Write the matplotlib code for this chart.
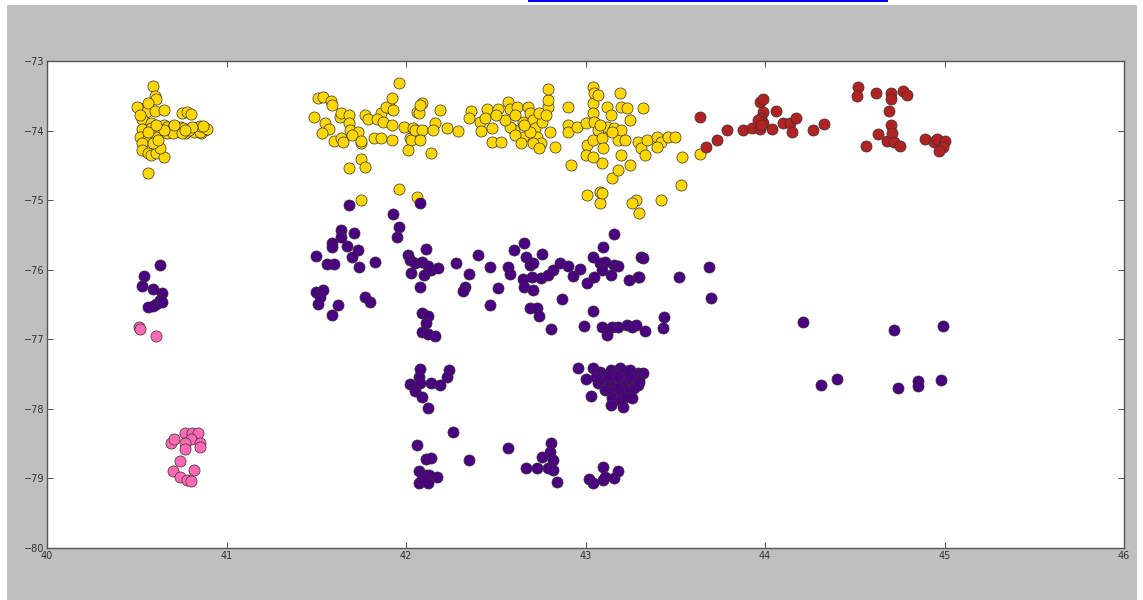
import numpy as np
import matplotlib
matplotlib.use("Agg")
import matplotlib.pyplot as plt
from matplotlib.patches import Rectangle

# cluster points, (longitude-ish x, latitude-ish y)
yellow = [
    # left clump around 40.6
    (40.59, -73.36), (40.60, -73.50), (40.61, -73.55), (40.51, -73.68), (40.55, -73.73),
    (40.56, -73.60), (40.60, -73.72), (40.65, -73.70), (40.53, -73.83), (40.58, -73.89),
    (40.62, -73.95), (40.53, -73.98), (40.52, -74.09), (40.56, -74.11), (40.53, -74.18),
    (40.53, -74.28), (40.56, -74.32), (40.58, -74.35), (40.61, -74.32), (40.65, -74.38),
    (40.63, -74.25), (40.61, -74.02), (40.56, -74.61), (40.75, -73.75), (40.78, -73.73),
    (40.80, -73.76), (40.65, -73.92), (40.67, -73.95), (40.70, -73.95), (40.74, -73.95),
    (40.77, -74.03), (40.80, -73.98), (40.84, -73.95), (40.86, -73.95), (40.88, -73.99),
    (40.86, -74.03), (40.63, -73.99), (40.69, -74.02), (40.72, -74.01), (40.76, -73.96),
    (40.82, -74.02), (40.85, -74.02), (40.89, -73.98), (40.61, -74.09), (40.59, -74.18),
    (40.62, -74.14), (40.67, -74.03), (40.70, -74.03), (40.75, -74.03), (40.79, -73.99),
    (40.65, -73.99), (40.58, -73.96), (40.56, -74.02), (40.61, -73.92), (40.85, -73.93),
    (40.87, -73.93), (40.50, -73.66), (40.52, -73.78), (40.71, -73.92), (40.81, -73.95),
    (40.77, -73.99),
    # band 41.5 - 42.3
    (41.51, -73.53), (41.54, -73.52), (41.58, -73.57), (41.59, -73.63), (41.49, -73.80),
    (41.55, -73.89), (41.57, -73.98), (41.53, -74.03), (41.60, -74.15), (41.64, -74.11),
    (41.65, -74.16), (41.63, -73.80), (41.64, -73.75), (41.68, -73.78), (41.68, -73.89),
    (41.69, -73.99), (41.73, -74.02), (41.70, -74.06), (41.75, -74.18), (41.75, -74.15),
    (41.77, -73.78), (41.79, -73.83), (41.82, -74.11), (41.86, -73.75), (41.84, -73.83),
    (41.87, -73.88), (41.86, -74.11), (41.91, -73.68), (41.89, -73.66), (41.93, -73.70),
    (41.92, -73.53), (41.96, -73.32), (41.92, -73.92), (41.92, -74.14), (41.99, -73.95),
    (42.02, -74.11), (42.03, -74.14), (42.01, -74.28), (42.04, -73.96), (42.05, -73.99),
    (42.06, -73.73), (42.07, -73.75), (42.09, -73.60), (42.08, -73.63), (42.09, -73.99),
    (42.08, -74.14), (42.14, -74.32), (42.16, -73.89), (42.15, -73.99), (42.19, -73.70),
    (42.23, -73.96), (42.29, -74.01), (41.75, -74.41), (41.77, -74.52), (41.68, -74.54),
    (41.96, -74.84), (41.75, -75.00), (42.06, -74.95),
    # band 42.35 - 42.85
    (42.36, -73.72), (42.35, -73.82), (42.41, -73.88), (42.42, -74.01), (42.45, -73.69),
    (42.44, -73.82), (42.48, -73.96), (42.51, -73.69), (42.48, -74.16), (42.53, -74.16),
    (42.57, -73.59), (42.58, -73.69), (42.60, -73.99), (42.62, -73.66), (42.65, -73.88),
    (42.65, -74.09), (42.68, -73.66), (42.69, -73.75), (42.71, -73.85), (42.72, -73.96),
    (42.73, -74.09), (42.75, -74.18), (42.79, -73.66), (42.79, -73.56), (42.79, -73.40),
    (42.80, -74.02), (42.83, -74.24), (42.58, -73.95), (42.61, -74.06), (42.69, -74.02),
    (42.71, -74.18), (42.74, -74.25), (42.76, -73.88), (42.74, -73.75), (42.64, -74.18),
    (42.66, -73.92), (42.55, -73.85), (42.50, -73.78), (42.78, -73.78), (42.61, -73.78),
    # band 42.9 - 43.65
    (42.90, -73.66), (42.90, -73.92), (42.90, -74.02), (42.95, -73.95), (42.92, -74.49),
    (43.00, -73.89), (43.01, -74.21), (43.00, -74.35), (43.04, -73.60), (43.04, -73.37),
    (43.05, -73.46), (43.07, -73.49), (43.04, -73.75), (43.05, -73.88), (43.07, -73.99),
    (43.04, -74.14), (43.09, -74.11), (43.10, -74.25), (43.09, -74.47), (43.04, -74.38),
    (43.12, -73.66), (43.12, -73.95), (43.15, -74.68), (43.16, -73.96), (43.18, -74.14),
    (43.19, -73.46), (43.20, -73.66), (43.23, -73.68), (43.20, -73.99), (43.20, -74.35),
    (43.18, -74.57), (43.25, -73.85), (43.22, -74.14), (43.25, -74.49), (43.32, -73.68),
    (43.29, -74.16), (43.31, -74.25), (43.33, -74.35), (43.34, -74.14), (43.40, -74.09),
    (43.42, -74.16), (43.40, -74.24), (43.46, -74.09), (43.50, -74.09), (43.54, -74.38),
    (43.53, -74.78), (43.42, -75.00), (43.28, -75.00), (43.08, -74.88), (43.01, -74.93),
    (43.08, -75.04), (43.26, -75.04), (43.30, -75.18), (43.64, -74.34), (43.09, -74.90),
    (43.14, -73.78), (43.08, -73.92), (43.15, -74.02),
]

purple = [
    # small group near 40.6
    (40.63, -75.93), (40.54, -76.09), (40.53, -76.23), (40.59, -76.28), (40.64, -76.33),
    (40.63, -76.43), (40.61, -76.49), (40.59, -76.52), (40.56, -76.53), (40.64, -76.46),
    # upper band
    (41.68, -75.07), (41.93, -75.20), (41.96, -75.39), (41.95, -75.53), (42.08, -75.04),
    (41.64, -75.43), (41.71, -75.47), (41.64, -75.53), (41.59, -75.61), (41.59, -75.67),
    (41.67, -75.66), (41.73, -75.72), (41.70, -75.82), (41.50, -75.80), (41.56, -75.92),
    (41.60, -75.92), (41.74, -75.96), (41.83, -75.89), (41.50, -76.32), (41.54, -76.29),
    (41.52, -76.39), (41.51, -76.49), (41.62, -76.51), (41.59, -76.65), (41.77, -76.39),
    (41.80, -76.46), (42.01, -75.79), (42.02, -75.86), (42.05, -75.90), (42.09, -75.89),
    (42.11, -75.70), (42.12, -75.95), (42.10, -76.07), (42.14, -76.00), (42.18, -75.97),
    (42.03, -76.05), (42.08, -76.25), (42.09, -76.62), (42.12, -76.66), (42.11, -76.76),
    (42.09, -76.89), (42.12, -76.92), (42.16, -76.95), (42.28, -75.90), (42.35, -76.06),
    (42.40, -75.79), (42.33, -76.25), (42.32, -76.30), (42.47, -75.96), (42.51, -76.26),
    (42.47, -76.51), (42.57, -75.96), (42.58, -76.06), (42.60, -75.72), (42.66, -75.61),
    (42.67, -75.82), (42.69, -75.93), (42.71, -75.90), (42.65, -76.13), (42.66, -76.25),
    (42.71, -76.29), (42.70, -76.10), (42.76, -75.77), (42.75, -76.12), (42.79, -76.07),
    (42.82, -76.00), (42.86, -75.90), (42.90, -75.95), (42.93, -76.09), (42.97, -75.99),
    (42.87, -76.42), (42.69, -76.55), (42.73, -76.55), (42.74, -76.66), (42.81, -76.85),
    (43.04, -75.82), (43.08, -75.90), (43.11, -75.89), (43.10, -75.67), (43.16, -75.49),
    (43.05, -76.10), (43.09, -76.00), (43.14, -76.07), (43.16, -75.93), (43.18, -75.95),
    (43.01, -76.19), (43.24, -76.15), (43.29, -76.10), (43.31, -75.82), (43.52, -76.10),
    (43.04, -76.59), (42.99, -76.81), (43.09, -76.82), (43.12, -76.94), (43.15, -76.82),
    (43.18, -76.82), (43.23, -76.79), (43.26, -76.82), (43.28, -76.79), (43.33, -76.88),
    (43.43, -76.84), (43.44, -76.68), (43.32, -75.83), (43.30, -76.10), (43.69, -75.96),
    (43.70, -76.41), (44.21, -76.75), (44.72, -76.86), (44.99, -76.81),
    # middle band
    (42.08, -77.43), (42.24, -77.44), (42.23, -77.54), (42.07, -77.54), (42.02, -77.64),
    (42.08, -77.63), (42.14, -77.63), (42.19, -77.66), (42.05, -77.74), (42.09, -77.83),
    (42.12, -77.99), (42.96, -77.41), (43.00, -77.57), (43.04, -77.41), (43.03, -77.81),
    (43.08, -77.47), (43.11, -77.51), (43.14, -77.44), (43.16, -77.47), (43.19, -77.41),
    (43.22, -77.45), (43.25, -77.44), (43.29, -77.48), (43.32, -77.48), (43.07, -77.63),
    (43.10, -77.58), (43.13, -77.66), (43.16, -77.61), (43.19, -77.58), (43.23, -77.64),
    (43.26, -77.61), (43.29, -77.66), (43.11, -77.73), (43.14, -77.76), (43.18, -77.70),
    (43.20, -77.77), (43.24, -77.73), (43.27, -77.70), (43.15, -77.84), (43.19, -77.87),
    (43.22, -77.83), (43.26, -77.84), (43.14, -77.94), (43.21, -77.97), (43.30, -77.57),
    (43.06, -77.54), (43.13, -77.53), (43.18, -77.53), (43.24, -77.54), (43.30, -77.61),
    (44.31, -77.66), (44.40, -77.57), (44.74, -77.70), (44.85, -77.60), (44.85, -77.67),
    (44.98, -77.58),
    # lower band
    (42.26, -78.33), (42.06, -78.52), (42.11, -78.72), (42.14, -78.70), (42.35, -78.73),
    (42.07, -78.89), (42.11, -78.95), (42.13, -78.95), (42.17, -78.98), (42.07, -79.06),
    (42.12, -79.06), (42.09, -79.01), (42.57, -78.56), (42.67, -78.85), (42.73, -78.85),
    (42.81, -78.49), (42.80, -78.62), (42.76, -78.69), (42.82, -78.73), (42.79, -78.85),
    (42.82, -78.88), (42.84, -79.05), (43.02, -79.01), (43.04, -79.06), (43.10, -78.83),
    (43.10, -79.02), (43.11, -78.98), (43.16, -78.99), (43.18, -78.89),
]

red = [
    (43.64, -73.80), (43.67, -74.24), (43.73, -74.14), (43.79, -73.99), (43.88, -73.99),
    (43.93, -73.96), (43.97, -73.98), (43.97, -73.59), (43.99, -73.55), (43.99, -73.73),
    (43.98, -73.82), (43.99, -73.89), (44.04, -73.98), (44.06, -73.72), (44.10, -73.89),
    (44.14, -73.89), (44.15, -74.02), (44.17, -73.82), (44.27, -73.99), (44.33, -73.90),
    (44.52, -73.37), (44.51, -73.50), (44.62, -73.46), (44.70, -73.46), (44.70, -73.55),
    (44.77, -73.43), (44.79, -73.49), (44.69, -73.72), (44.70, -73.92), (44.63, -74.05),
    (44.56, -74.22), (44.68, -74.15), (44.71, -74.03), (44.72, -74.16), (44.75, -74.22),
    (44.89, -74.12), (44.94, -74.16), (44.96, -74.12), (45.00, -74.15), (44.99, -74.24),
    (44.97, -74.29), (43.96, -73.85), (43.98, -73.92),
]

pink = [
    (40.69, -78.49), (40.71, -78.43), (40.77, -78.34), (40.81, -78.34), (40.84, -78.34),
    (40.80, -78.43), (40.77, -78.49), (40.85, -78.49), (40.85, -78.55), (40.77, -78.57),
    (40.74, -78.75), (40.70, -78.89), (40.82, -78.88), (40.74, -78.98), (40.78, -79.02),
    (40.80, -79.03), (40.51, -76.82), (40.52, -76.85), (40.61, -76.95),
]

groups = [(yellow, "#FFD700"), (purple, "#4B0082"), (red, "#B22222"), (pink, "#FF69B4")]

fig = plt.figure(figsize=(11.43, 6.0), dpi=100, facecolor="white")
# grey canvas of the screenshot, with the thin white margin around it
fig.patches.append(Rectangle((7 / 1143, 0), 1130 / 1143, 595 / 600,
                             transform=fig.transFigure, facecolor="#bfbfbf",
                             edgecolor="none", zorder=-10))
# bit of the cut-off link at the top
fig.patches.append(Rectangle((528 / 1143, 598 / 600), 360 / 1143, 2 / 600,
                             transform=fig.transFigure, facecolor="#0000ff",
                             edgecolor="none", zorder=-5))

ax = fig.add_axes([47 / 1143, 52 / 600, 1077 / 1143, 487 / 600])
ax.set_facecolor("white")

for pts, col in groups:
    arr = np.array(pts)
    ax.scatter(arr[:, 0], arr[:, 1], s=64, c=col, edgecolors="#333333",
               linewidths=0.5, zorder=3)

ax.set_xlim(40, 46)
ax.set_ylim(-80, -73)
ax.set_xticks(range(40, 47))
ax.set_yticks(range(-80, -72))
ax.tick_params(direction="in", top=True, right=True, length=4, width=0.6,
               labelsize=7, colors="#333333", pad=2)
for sp in ax.spines.values():
    sp.set_color("#555555")
    sp.set_linewidth(1.0)

fig.savefig("out.png", dpi=100, facecolor=fig.get_facecolor())
